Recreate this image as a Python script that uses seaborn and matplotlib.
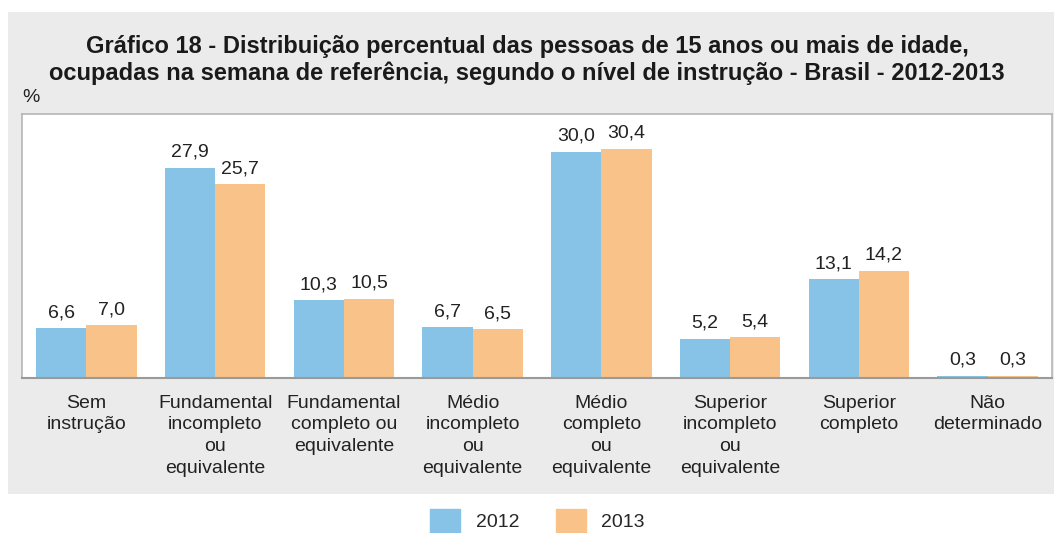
import pandas as pd
import matplotlib.pyplot as plt
import matplotlib.patches as mpatches
import seaborn as sns

# categorias e valores (%)
categorias = ['Sem\ninstrução', 'Fundamental\nincompleto\nou\nequivalente',
              'Fundamental\ncompleto ou\nequivalente', 'Médio\nincompleto\nou\nequivalente',
              'Médio\ncompleto\nou\nequivalente', 'Superior\nincompleto\nou\nequivalente',
              'Superior\ncompleto', 'Não\ndeterminado']
anos = ['2012', '2013']
valores_2012 = [6.6, 27.9, 10.3, 6.7, 30.0, 5.2, 13.1, 0.3]
valores_2013 = [7.0, 25.7, 10.5, 6.5, 30.4, 5.4, 14.2, 0.3]
cores = ['#86c3e6', '#f8c288']

df = pd.DataFrame({
    'categoria': categorias * 2,
    'ano': [anos[0]] * len(categorias) + [anos[1]] * len(categorias),
    'valor': valores_2012 + valores_2013,
})

sns.set_style('white')
plt.rcParams['font.family'] = ['Liberation Sans', 'DejaVu Sans']

fig = plt.figure(figsize=(10.54, 5.33), dpi=100)
fig.patch.set_facecolor('white')
# painel cinza de fundo
fig.patches.append(mpatches.Rectangle((8 / 1054, 1 - 494 / 533), 1 - 8 / 1054, (494 - 12) / 533,
                                      transform=fig.transFigure, facecolor='#ebebeb',
                                      edgecolor='none', zorder=-10))

ax = fig.add_axes([22 / 1054, 1 - 378 / 533, (1052 - 22) / 1054, (378 - 114) / 533])
ax.set_facecolor('white')
sns.barplot(data=df, x='categoria', y='valor', hue='ano', palette=cores, width=0.78,
            saturation=1, linewidth=0, ax=ax, legend=False)

# rótulos de valores
for cont in ax.containers:
    rotulos = [f'{b.get_height():.1f}'.replace('.', ',') for b in cont]
    ax.bar_label(cont, labels=rotulos, padding=5, fontsize=14, color='#222222')

ax.set_ylim(0, 35)
ax.set_xlim(-0.5, len(categorias) - 0.5)
ax.set_yticks([])
ax.set_xlabel('')
ax.set_ylabel('')
ax.tick_params(axis='x', length=0, pad=12, labelsize=14, labelcolor='#222222')
for s in ax.spines.values():
    s.set_color('#b5b5b5')
    s.set_linewidth(1.2)
ax.spines['bottom'].set_color('#9a9a9a')
ax.spines['bottom'].set_linewidth(1.5)
for lbl in ax.get_xticklabels():
    lbl.set_linespacing(1.36)

# título e unidade
fig.text(0.5, 1 - 60 / 533, 'Gráfico 18 - Distribuição percentual das pessoas de 15 anos ou mais de idade,\n'
         'ocupadas na semana de referência, segundo o nível de instrução - Brasil - 2012-2013',
         ha='center', va='center', fontsize=17, fontweight='bold', color='#1a1a1a', linespacing=1.2)
fig.text(22 / 1054, 1 - 97 / 533, '%', ha='left', va='center', fontsize=14, color='#222222')

# legenda
handles = [mpatches.Patch(color=c, label=a) for a, c in zip(anos, cores)]
fig.legend(handles=handles, loc='center', bbox_to_anchor=(0.51, 1 - 521 / 533), ncol=2,
           frameon=False, fontsize=14, handlelength=1.55, handleheight=1.6, columnspacing=1.85,
           handletextpad=0.8)

fig.savefig('out.png', dpi=100, facecolor=fig.get_facecolor())
